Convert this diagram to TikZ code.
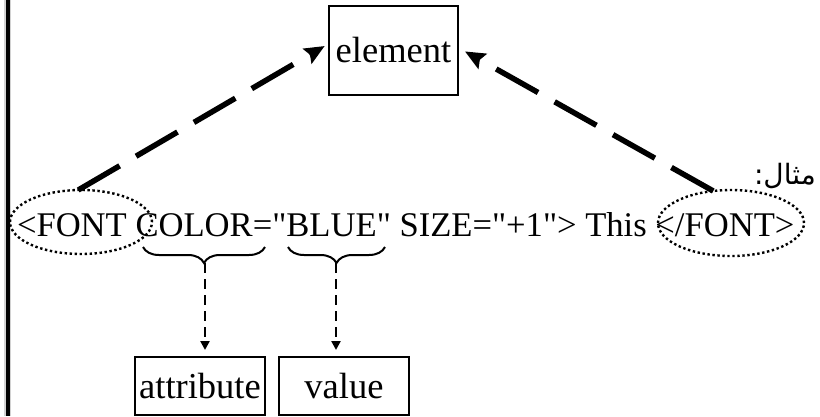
\documentclass[tikz,border=0pt]{standalone}
\usepackage{fontspec}
\setmainfont{Liberation Serif}[Ligatures=TeXOff]
\newfontfamily\arabicfont[Script=Arabic]{DejaVu Sans}
\TeXXeTstate=1
\usetikzlibrary{arrows.meta,shapes.geometric,decorations.pathreplacing,calc}

\tikzset{
  big/.style={font=\fontsize{34.6}{40}\selectfont},
  boxfont/.style={font=\fontsize{36.5}{42}\selectfont},
  txt/.style={big, inner sep=0pt, outer sep=0pt, anchor=base west},
  box/.style={draw, line width=2pt, boxfont, inner sep=0pt, outer sep=0pt},
  tagring/.style={ellipse, draw, line width=2.4pt, dash pattern=on 2.4pt off 2.6pt,
                  inner sep=0pt, outer sep=0pt},
  bigdash/.style={line width=5.5pt, dash pattern=on 48pt off 19pt,
                  -{Stealth[length=20pt,width=17pt,inset=3pt]}},
  smalldash/.style={line width=2.4pt, dash pattern=on 10pt off 6pt,
                    -{Triangle[length=9pt,width=9pt]}},
  curly/.style={line width=2pt, decorate,
                decoration={brace, mirror, amplitude=16pt}},
}

\begin{document}
\begin{tikzpicture}[x=1pt, y=-1pt]
  \useasboundingbox (0,0) rectangle (820,416);

  % double rule at the left margin
  \draw[gray!35, line width=7pt] (7.5,0) -- (7.5,416);
  \draw[black, line width=4pt] (7.5,0) -- (7.5,416);

  % the element box
  \node[box, minimum width=129pt, minimum height=89pt] (elem) at (393.5,50.5) {element};

  % the example tag, set piece by piece
  \node[txt] (open) at (17,236) {<FONT};
  \node[txt] (attr) at ([xshift=8.65pt]open.base east) {COLOR};
  \node[txt] (eq) at (attr.base east) {="};
  \node[txt] (val) at (eq.base east) {BLUE"};
  \node[txt] (rest) at ([xshift=8.65pt]val.base east) {SIZE="+1"> This};
  \node[txt] (close) at ([xshift=8.65pt]rest.base east) {</FONT>};

  % label
  \node[inner sep=0pt, anchor=base east] (label) at (816,184)
    {\fontsize{28}{32}\selectfont\arabicfont\beginR مثال:\endR};

  % dotted rings round the opening and closing tags
  \node[tagring, minimum width=142pt, minimum height=64pt] (lring) at (81,222) {};
  \node[tagring, minimum width=146pt, minimum height=66pt] (rring) at (731,223) {};

  % arrows up to the element box
  \draw[bigdash, shorten >=5pt] (lring.95) -- ($(elem.west)+(0,-7)$);
  \draw[bigdash, shorten >=8pt] (rring.119) -- ($(elem.east)+(0,-3)$);

  % braces under the attribute and its value
  \coordinate (b1) at (205,263);
  \coordinate (b2) at (336,263);
  \draw[curly] (143,247) -- (265,247);
  \draw[curly] (288,247) -- (385,247);

  % boxes below
  \node[box, minimum width=130pt, minimum height=58pt] (attrbox) at (200,386) {attribute};
  \node[box, minimum width=130pt, minimum height=58pt] (valbox) at (344,386) {value};

  \draw[smalldash, shorten >=7pt] (b1) -- (b1 |- attrbox.north);
  \draw[smalldash, shorten >=7pt] (b2) -- (b2 |- valbox.north);
\end{tikzpicture}
\end{document}
